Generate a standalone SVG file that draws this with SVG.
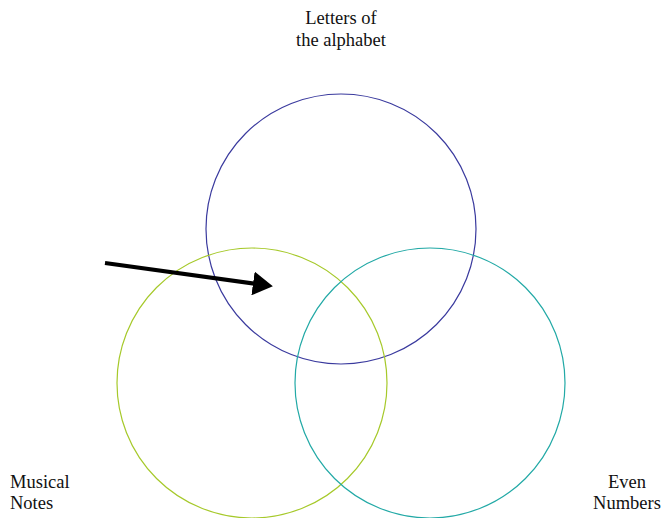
<svg xmlns="http://www.w3.org/2000/svg" width="661" height="518" viewBox="0 0 661 518">
<style>
.c{fill:none;stroke-width:1.2}
.t{font-family:'Liberation Serif','Times New Roman',serif;font-size:18.5px;fill:#111}
</style>
<defs>
<marker id="ah" markerWidth="6" markerHeight="6" refX="1" refY="3" orient="auto" markerUnits="strokeWidth">
<path d="M0,0 L5,3 L0,6 z" fill="#000"/>
</marker>
</defs>
<rect width="661" height="518" fill="#fff"/>
<g id="letters">
<circle class="c" cx="341" cy="229" r="135" stroke="#3a3a9e"/>
<text class="t" x="341" y="24" text-anchor="middle">Letters of</text>
<text class="t" x="341" y="46" text-anchor="middle">the alphabet</text>
</g>
<g id="musical">
<circle class="c" cx="252" cy="383" r="135" stroke="#a6c92a"/>
<text class="t" x="10" y="488">Musical</text>
<text class="t" x="10" y="509">Notes</text>
</g>
<g id="even">
<circle class="c" cx="430" cy="383" r="135" stroke="#22a9a6"/>
<text class="t" x="627" y="488" text-anchor="middle">Even</text>
<text class="t" x="627" y="509" text-anchor="middle">Numbers</text>
</g>
<g id="connectors">
<line x1="105" y1="263" x2="257" y2="284" stroke="#000" stroke-width="4" marker-end="url(#ah)"/>
</g>
</svg>
